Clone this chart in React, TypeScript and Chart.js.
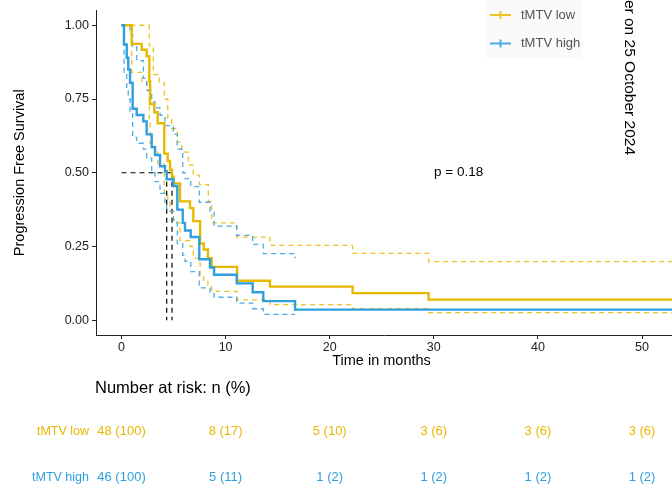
import React, { useEffect, useRef } from 'react';
import { Chart, registerables } from 'chart.js';

Chart.register(...registerables);

// ---------- data ----------
const lowColor = '#E7B800';
const highColor = '#2E9FDF';

const lowTimes = [0, 0.98, 1.94, 2.42, 2.67, 2.75, 3.15, 3.48, 4.11, 4.44, 4.66, 4.85, 5.0, 5.62, 6.58, 6.9, 7.55, 7.9, 8.3, 8.66, 11.1, 14.26, 22.2, 29.5, 53.5];
const lowSurv = [1, 0.937, 0.917, 0.895, 0.81, 0.733, 0.705, 0.668, 0.565, 0.54, 0.51, 0.487, 0.464, 0.403, 0.38, 0.336, 0.26, 0.24, 0.21, 0.181, 0.134, 0.114, 0.092, 0.07, 0.07];
const lowLower = [1, 0.84, 0.81, 0.78, 0.68, 0.6, 0.57, 0.53, 0.43, 0.4, 0.37, 0.35, 0.33, 0.27, 0.25, 0.21, 0.15, 0.135, 0.115, 0.098, 0.069, 0.053, 0.039, 0.026, 0.026];
const lowUpperTimes = [0, 2.67, 3.06, 3.63, 4.11, 4.44, 4.82, 5.36, 5.78, 6.42, 6.9, 7.47, 8.34, 8.66, 11.07, 14.26, 22.2, 29.5, 53.5];
const lowUpper = [1, 0.93, 0.833, 0.805, 0.75, 0.68, 0.65, 0.604, 0.57, 0.526, 0.492, 0.46, 0.403, 0.33, 0.282, 0.254, 0.227, 0.199, 0.199];

const highTimes = [0, 0.24, 0.5, 0.65, 0.82, 1.07, 1.46, 2.1, 2.42, 2.9, 3.22, 3.7, 4.18, 4.34, 4.98, 5.36, 5.88, 6.1, 6.65, 7.47, 8.5, 8.89, 11.07, 12.6, 13.62, 16.67, 53.5];
const highSurv = [1, 0.935, 0.89, 0.85, 0.805, 0.717, 0.696, 0.674, 0.63, 0.587, 0.56, 0.522, 0.505, 0.478, 0.455, 0.375, 0.33, 0.304, 0.282, 0.207, 0.179, 0.154, 0.125, 0.095, 0.065, 0.036, 0.036];
const highLowerTimes = [0, 0.24, 0.5, 0.65, 0.82, 1.07, 1.46, 2.1, 2.42, 2.9, 3.22, 3.7, 4.18, 4.34, 4.98, 5.36, 5.88, 6.1, 6.65, 7.47, 8.5, 8.89, 11.07, 12.6, 13.62, 16.67];
const highLower = [1, 0.84, 0.79, 0.75, 0.7, 0.62, 0.6, 0.58, 0.55, 0.5, 0.47, 0.43, 0.4, 0.37, 0.34, 0.26, 0.22, 0.2, 0.165, 0.11, 0.09, 0.078, 0.058, 0.039, 0.02, 0.02];
const highUpperTimes = [0, 0.82, 1.07, 1.46, 2.1, 2.42, 2.9, 3.22, 3.7, 4.18, 4.98, 5.36, 5.88, 6.1, 6.65, 7.47, 8.5, 8.89, 11.07, 12.6, 13.62, 16.67, 16.67];
const highUpper = [1, 0.97, 0.93, 0.88, 0.82, 0.78, 0.74, 0.72, 0.695, 0.66, 0.63, 0.58, 0.5, 0.48, 0.453, 0.4, 0.37, 0.319, 0.288, 0.257, 0.226, 0.226, 0.21];

const medianLevel = 0.5;
const medianTimes = [4.34, 4.85];

const xTicks = [0, 10, 20, 30, 40, 50];
const yTicks = [0, 0.25, 0.5, 0.75, 1];

const groupNames = ['tMTV low', 'tMTV high'];
const riskTimes = [0, 10, 20, 30, 40, 50];
const lowRisk = ['48 (100)', '8 (17)', '5 (10)', '3 (6)', '3 (6)', '3 (6)'];
const highRisk = ['46 (100)', '5 (11)', '1 (2)', '1 (2)', '1 (2)', '1 (2)'];

const pValueText = 'p = 0.18';
const xTitle = 'Time in months';
const yTitle = 'Progression Free Survival';
const riskTitle = 'Number at risk: n (%)';
const sideNote = 'er on 25 October 2024';

const FONT = '"Liberation Sans", Arial, Helvetica, sans-serif';

const pts = (t: number[], v: number[]) => t.map((x, i) => ({ x, y: v[i] }));

const overlay = {
  id: 'overlay',
  afterDraw(chart: any) {
    const ctx = chart.ctx as CanvasRenderingContext2D;
    const xs = chart.scales.x;
    const area = chart.chartArea;
    ctx.save();

    // y title
    ctx.save();
    ctx.fillStyle = '#000';
    ctx.font = `14.5px ${FONT}`;
    ctx.translate(20, (area.top + area.bottom) / 2);
    ctx.rotate(-Math.PI / 2);
    ctx.textAlign = 'center';
    ctx.textBaseline = 'middle';
    ctx.fillText(yTitle, 0, 0);
    ctx.restore();

    // x title
    ctx.fillStyle = '#000';
    ctx.font = `14.5px ${FONT}`;
    ctx.textAlign = 'center';
    ctx.textBaseline = 'middle';
    ctx.fillText(xTitle, 381.5, 361);

    // p value
    ctx.font = `13.5px ${FONT}`;
    ctx.textAlign = 'left';
    ctx.fillText(pValueText, 434, 172);

    // legend
    ctx.fillStyle = '#fafafa';
    ctx.fillRect(485, 0, 98, 58);
    const legendRows = [
      { y: 15, color: lowColor, name: groupNames[0] },
      { y: 43.5, color: highColor, name: groupNames[1] },
    ];
    legendRows.forEach((r) => {
      ctx.strokeStyle = r.color;
      ctx.globalAlpha = 0.85;
      ctx.lineWidth = 2;
      ctx.beginPath();
      ctx.moveTo(490, r.y);
      ctx.lineTo(511, r.y);
      ctx.moveTo(500.5, r.y - 4);
      ctx.lineTo(500.5, r.y + 4);
      ctx.stroke();
      ctx.globalAlpha = 1;
      ctx.fillStyle = '#555';
      ctx.font = `13px ${FONT}`;
      ctx.textAlign = 'left';
      ctx.textBaseline = 'middle';
      ctx.fillText(r.name, 521, r.y);
    });

    // side note rotated
    ctx.save();
    ctx.fillStyle = '#000';
    ctx.font = `15.5px ${FONT}`;
    ctx.translate(625, 0);
    ctx.rotate(Math.PI / 2);
    ctx.textAlign = 'right';
    ctx.textBaseline = 'alphabetic';
    ctx.fillText(sideNote, 155, 0);
    ctx.restore();

    // risk table
    ctx.fillStyle = '#000';
    ctx.font = `16.5px ${FONT}`;
    ctx.textAlign = 'left';
    ctx.textBaseline = 'middle';
    ctx.fillText(riskTitle, 95, 388);

    const rows = [
      { y: 431.5, color: lowColor, name: groupNames[0], vals: lowRisk },
      { y: 477.5, color: highColor, name: groupNames[1], vals: highRisk },
    ];
    rows.forEach((r) => {
      ctx.fillStyle = r.color;
      ctx.font = `12.5px ${FONT}`;
      ctx.textAlign = 'right';
      ctx.fillText(r.name, 89, r.y);
      ctx.font = `13px ${FONT}`;
      ctx.textAlign = 'center';
      r.vals.forEach((v, i) => {
        ctx.fillText(v, xs.getPixelForValue(riskTimes[i]), r.y);
      });
    });

    ctx.restore();
  },
};

export default function App() {
  const ref = useRef<HTMLCanvasElement | null>(null);

  useEffect(() => {
    if (!ref.current) return;
    const solid = (data: any, color: string) => ({
      data,
      borderColor: color,
      borderWidth: 2.4,
      stepped: 'before' as const,
      pointRadius: 0,
      fill: false,
    });
    const dashed = (data: any, color: string) => ({
      data,
      borderColor: color,
      borderWidth: 1.3,
      borderDash: [5, 4],
      stepped: 'before' as const,
      pointRadius: 0,
      fill: false,
    });
    const lowCI = 'rgba(231,184,0,0.85)';
    const highCI = 'rgba(46,159,223,0.85)';
    const chart = new Chart(ref.current, {
      type: 'line',
      data: {
        datasets: [
          solid(pts(highTimes, highSurv), highColor),
          solid(pts(lowTimes, lowSurv), lowColor),
          dashed(pts(highUpperTimes, highUpper), highCI),
          dashed(pts(highLowerTimes, highLower), highCI),
          dashed(pts(lowUpperTimes, lowUpper), lowCI),
          dashed(pts(lowTimes, lowLower), lowCI),
          {
            data: [{ x: 0, y: medianLevel }, { x: Math.max(...medianTimes), y: medianLevel }],
            borderColor: '#000', borderWidth: 1.2, borderDash: [5, 4], pointRadius: 0, fill: false,
          },
          ...medianTimes.map((m) => ({
            data: [{ x: m, y: medianLevel }, { x: m, y: 0 }],
            borderColor: '#000', borderWidth: 1.2, borderDash: [5, 4], pointRadius: 0, fill: false,
          })),
        ] as any,
      },
      options: {
        animation: false,
        responsive: false,
        events: [],
        layout: { padding: { top: 7, left: 0, right: 0, bottom: 0 } },
        plugins: { legend: { display: false }, tooltip: { enabled: false } },
        scales: {
          x: {
            type: 'linear',
            min: -2.45,
            max: 52.88,
            afterBuildTicks: (s: any) => { s.ticks = xTicks.map((v) => ({ value: v })); },
            afterFit: (s: any) => { s.height = 155; },
            ticks: {
              autoSkip: false, maxRotation: 0, padding: 1, color: '#222',
              font: { family: FONT, size: 12.5 },
              callback: (v: any) => String(v),
            },
            grid: { drawOnChartArea: false, drawTicks: true, tickLength: 4, color: '#222', lineWidth: 1 },
            border: { display: true, color: '#222', width: 1 },
          },
          y: {
            type: 'linear',
            min: -0.05,
            max: 1.05,
            afterBuildTicks: (s: any) => { s.ticks = yTicks.map((v) => ({ value: v })); },
            afterFit: (s: any) => { s.width = 96; },
            ticks: {
              autoSkip: false, padding: 3, color: '#222',
              font: { family: FONT, size: 12.5 },
              callback: (v: any) => Number(v).toFixed(2),
            },
            grid: { drawOnChartArea: false, drawTicks: true, tickLength: 4, color: '#222', lineWidth: 1 },
            border: { display: true, color: '#222', width: 1 },
          },
        },
      } as any,
      plugins: [overlay],
    });
    return () => chart.destroy();
  }, []);

  return (
    <div style={{ position: 'absolute', left: 0, top: 0, width: 672, height: 490, background: '#fff' }}>
      <canvas ref={ref} width={672} height={490} style={{ display: 'block' }} />
    </div>
  );
}
